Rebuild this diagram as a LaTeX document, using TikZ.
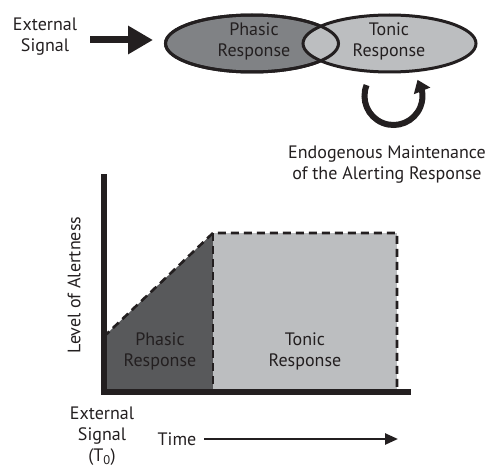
\documentclass[tikz,border=0pt]{standalone}
\usepackage{fontspec}
\setmainfont{PT Sans}
\usetikzlibrary{shapes.geometric,arrows.meta,bending}
\definecolor{ink}{HTML}{231F20}
\definecolor{midgray}{HTML}{808285}
\definecolor{lightgray}{HTML}{BCBEC0}
\definecolor{darkgray}{HTML}{58595B}
\tikzset{
  lbl/.style={font=\fontsize{18}{21}\selectfont, text=ink, align=center, inner sep=0pt},
  oval/.style={ellipse, draw=ink, line width=3pt, minimum width=173pt, minimum height=57pt, inner sep=0pt},
  axisline/.style={draw=ink, line width=6pt},
  dashedge/.style={draw=ink, line width=2.6pt, dash pattern=on 8pt off 5pt},
}
\begin{document}
\begin{tikzpicture}[x=1pt,y=-1pt]
\useasboundingbox (0,0) rectangle (496,468);
% top part
\node[lbl] (ext) at (45,37) {External\\Signal};
\node[oval, fill=midgray] (phasic) at (252,43.5) {};
\node[oval, fill=lightgray] (tonic) at (389.5,43.5) {};
\node[oval, fill=none] (phasicline) at (252,43.5) {};
\node[lbl] (phasictxt) at (254,41) {Phasic\\Response};
\node[lbl] (tonictxt) at (389,41) {Tonic\\Response};
\coordinate (a1) at (90,40);
\coordinate (a2) at (153,40);
\draw[ink, line width=7pt, -{Triangle[length=25pt,width=27pt]}] (a1) -- (a2);
\coordinate (loopc) at (393.5,96);
\draw[ink, line width=6pt, -{Triangle[length=12pt,width=17pt,flex]}] ([shift={(202:29)}]loopc) arc (202:-34:29);
\node[lbl] (endo) at (387,165) {Endogenous Maintenance\\of the Alerting Response};
% graph
\coordinate (o) at (103.5,392);
\coordinate (ytop) at (103.5,177);
\coordinate (xend) at (408,392);
\coordinate (p0) at (103.5,337);
\coordinate (p1) at (213,233);
\coordinate (p2) at (213,392);
\coordinate (t1) at (397,233);
\coordinate (t2) at (397,392);
\fill[darkgray] (p0) -- (p1) -- (p2) -- (o) -- cycle;
\fill[lightgray] (p1) -- (t1) -- (t2) -- (p2) -- cycle;
\draw[dashedge] (p0) -- (p1) -- (t1) -- (t2);
\draw[dashedge] (p1) -- (p2);
\draw[axisline, line cap=rect] (ytop) -- (o) -- (xend);
\node[lbl] (gphasic) at (160,351) {Phasic\\Response};
\node[lbl] (gtonic) at (305,351) {Tonic\\Response};
\node[lbl, rotate=90] (yl) at (74,285) {Level of Alertness};
\node[lbl] (t0) at (102,436) {External\\Signal\\(T\textsubscript{0})};
\node[lbl] (time) at (177,439) {Time};
\coordinate (tend) at (398,439);
\draw[ink, line width=2.5pt, -{Triangle[length=13pt,width=11pt]}] ([xshift=8pt]time.east) -- (tend);
\end{tikzpicture}
\end{document}
